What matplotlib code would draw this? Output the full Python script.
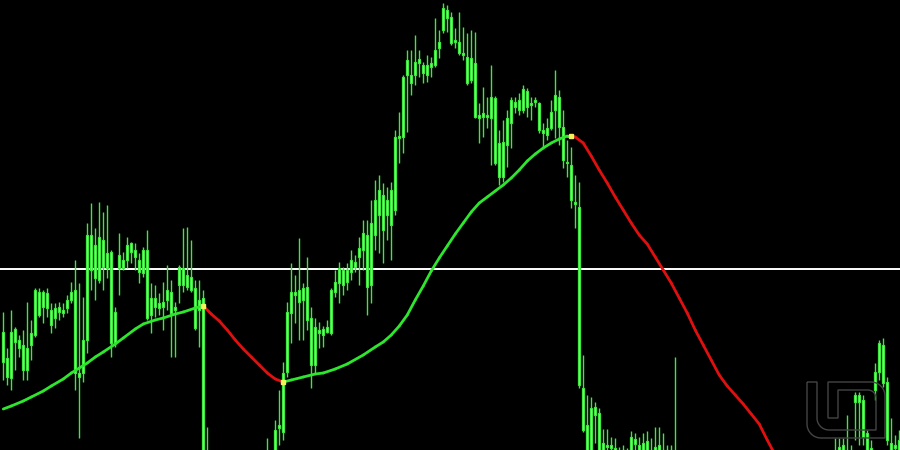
import numpy as np
import matplotlib
matplotlib.use("Agg")
import matplotlib.pyplot as plt
from matplotlib.collections import LineCollection
from matplotlib.path import Path
from matplotlib.patches import PathPatch

# candle data (one row per bar): high, close, open, low
highs = [138, 102, 140, 123, 115, 120, 148, 130, 162, 162, 160, 162, 147, 147, 148, 147, 155, 168, 190, 167,
         153, 227, 247, 222, 248, 238, 245, 200, 143, 217, 198, 213, 208, 207, 197, 203, 220, 167, 165, 157,
         168, 185, 170, 148, 185, 222, 223, 210, 170, 170, 160, 23, -8, -12, -10, -15, -18, -14, -20, -17,
         -12, -22, -19, -15, -10, -12, 12, -3, 30, 60, 88, 148, 187, 175, 212, 167, 193, 143, 132, 128,
         124, 130, 162, 180, 188, 183, 187, 200, 195, 213, 230, 230, 250, 270, 275, 267, 263, 268, 320, 338,
         375, 400, 400, 415, 400, 388, 395, 393, 432, 420, 447, 445, 438, 422, 438, 423, 417, 420, 418, 347,
         363, 353, 385, 354, 320, 330, 340, 353, 353, 357, 365, 362, 353, 353, 348, 327, 332, 350, 380, 360,
         340, 310, 303, 275, 268, 95, 55, 53, 48, 42, 21, 21, 13, 12, 3, 5, 2, 19, 17, 13,
         17, 19, 12, 23, 23, 17, 5, 5, 93, -12, -18, -22, -20, -30, -35, -33, -40, -45, -42, -50,
         -55, -52, -58, -62, -60, -65, -68, -64, -60, -62, -55, -50, -52, -45, -40, -42, -35, -30, -32, -25,
         -20, -22, -15, -10, -12, -6, -4, -2, 12, 12, 12, 35, 5, 58, 58, 55, 20, 10, 87, 110,
         112, 73, 32, 15, 20]
closes = [118, 92, 118, 121, 110, 105, 102, 117, 160, 158, 158, 157, 140, 142, 143, 140, 150, 158, 160, 77,
          110, 215, 215, 205, 213, 210, 197, 198, 138, 195, 190, 205, 207, 200, 190, 200, 200, 152, 152, 147,
          148, 160, 158, 143, 183, 182, 175, 173, 162, 150, 152, -5, -15, -20, -18, -22, -25, -20, -28, -24,
          -18, -30, -26, -20, -16, -18, -8, -8, 20, 25, 77, 138, 158, 158, 160, 162, 163, 132, 123, 120,
          121, 123, 160, 168, 182, 180, 180, 190, 188, 202, 217, 215, 227, 250, 260, 255, 250, 260, 313, 314,
          373, 390, 375, 388, 391, 385, 385, 387, 400, 408, 442, 440, 433, 410, 408, 397, 393, 392, 387, 335,
          337, 335, 353, 352, 307, 308, 332, 350, 348, 350, 361, 359, 347, 350, 347, 320, 322, 338, 355, 353,
          323, 288, 285, 248, 243, 62, 25, 42, 43, 37, 7, 5, 5, 2, -2, 0, -2, 13, 11, 5,
          7, 9, 0, 3, 5, 0, 0, 0, -5, -20, -25, -30, -28, -38, -42, -40, -48, -52, -50, -58,
          -62, -60, -66, -70, -68, -72, -75, -72, -68, -70, -64, -58, -60, -54, -48, -50, -44, -38, -40, -33,
          -28, -30, -22, -18, -20, -14, -12, -10, -2, 3, 5, 0, -2, 55, 55, 50, 17, 2, 78, 107,
          105, 68, 7, 5, 10]
opens = [88, 73, 72, 108, 102, 80, 80, 105, 115, 135, 143, 142, 125, 132, 138, 137, 142, 150, 77, 73,
         77, 110, 180, 172, 170, 183, 182, 107, 107, 182, 182, 190, 198, 193, 178, 177, 132, 135, 143, 142,
         143, 150, 137, 140, 165, 165, 163, 160, 122, 140, -20, -20, -25, -30, -28, -32, -35, -30, -38, -34,
         -28, -40, -36, -30, -26, -28, -18, -15, 0, 22, 18, 78, 137, 155, 148, 150, 130, 85, 85, 117,
         115, 118, 117, 158, 167, 165, 168, 178, 183, 193, 200, 163, 165, 215, 235, 220, 235, 225, 240, 312,
         313, 375, 367, 375, 387, 377, 375, 383, 385, 402, 420, 432, 407, 408, 397, 395, 367, 370, 333, 332,
         333, 333, 332, 287, 273, 273, 305, 327, 343, 340, 340, 343, 345, 348, 320, 317, 315, 322, 340, 323,
         290, 287, 250, 246, 65, 20, -5, -5, 35, -5, -5, 3, 2, -5, -10, -8, -10, -5, 6, -5,
         -5, -5, -6, -5, -5, -6, -8, -8, -15, -32, -38, -42, -45, -50, -55, -52, -60, -66, -62, -70,
         -75, -72, -78, -82, -80, -85, -88, -84, -80, -82, -76, -70, -72, -66, -60, -62, -56, -50, -52, -45,
         -40, -42, -34, -30, -32, -26, -22, -20, -10, -2, -2, -8, -10, 48, 48, 13, 0, -5, 60, 78,
         67, 10, -2, 2, 0]
lows = [70, 65, 60, 80, 93, 70, 70, 90, 113, 133, 127, 133, 117, 122, 130, 133, 137, 147, 60, 12,
        68, 97, 160, 150, 167, 160, 172, 93, 103, 155, 180, 182, 187, 180, 167, 173, 130, 117, 133, 135,
        120, 140, 93, 93, 147, 158, 160, 158, 120, 103, -30, -30, -35, -40, -38, -42, -45, -40, -48, -44,
        -38, -50, -46, -40, -36, -38, -25, -22, -10, 5, 10, 73, 107, 127, 110, 110, 120, 62, 77, 102,
        103, 117, 115, 153, 147, 155, 160, 170, 178, 165, 180, 135, 147, 200, 197, 187, 210, 190, 235, 287,
        297, 318, 355, 365, 373, 367, 368, 373, 383, 392, 417, 418, 405, 402, 395, 390, 365, 367, 332, 307,
        313, 322, 285, 285, 265, 268, 283, 302, 337, 335, 337, 333, 330, 343, 317, 303, 310, 320, 312, 305,
        282, 273, 242, 222, 62, 18, -10, -10, 7, -10, -10, -5, -5, -10, -15, -15, -15, -10, -5, -10,
        -10, -10, -10, -10, -10, -10, -12, -12, -20, -40, -48, -52, -55, -60, -66, -62, -70, -75, -72, -80,
        -85, -82, -90, -92, -88, -95, -98, -94, -90, -92, -86, -80, -82, -76, -70, -72, -66, -60, -62, -55,
        -50, -52, -44, -40, -42, -36, -32, -30, -15, -10, -10, -12, -15, 10, 5, 5, -5, -10, 50, 70,
        63, 5, -5, -5, -5]

# moving average (bar index, value)
ma_idx = [0, 2, 5, 7, 10, 12, 15, 17, 19, 21, 23, 25, 28, 30, 33, 35, 38, 40, 43, 45,
          48, 50, 52, 54, 56, 58, 60, 62, 64, 66, 68, 70, 72, 75, 78, 80, 83, 86, 90, 93,
          95, 97, 99, 101, 103, 105, 107, 109, 111, 113, 115, 117, 119, 121, 123, 125, 127, 129, 131, 133,
          135, 137, 139, 141, 142, 143, 145, 147, 149, 151, 153, 155, 157, 159, 161, 163, 165, 167, 169, 171,
          173, 175, 177, 179, 181, 183, 185, 187, 189, 191, 193, 196, 200, 224]
ma_val = [41, 44, 49, 53, 59, 64, 71, 77, 82, 87, 93, 98, 106, 112, 121, 126, 130, 132, 136, 138,
          142, 144, 136, 129, 120, 110, 101, 93, 85, 77, 71, 68, 70, 73, 76, 77, 81, 86, 95, 103,
          108, 115, 124, 135, 150, 164, 179, 192, 204, 216, 227, 238, 247, 253, 259, 265, 272, 280, 289, 296,
          302, 307, 311, 314, 314, 313, 307, 294, 280, 267, 253, 240, 227, 215, 206, 193, 180, 167, 152, 137,
          120, 105, 90, 75, 64, 55, 46, 36, 26, 10, -5, -30, -55, -150]

level = 181  # horizontal line

green = '#3fe83f'
body_face = '#8dff8d'

fig = plt.figure(figsize=(9, 4.5), dpi=100, facecolor='black')
ax = fig.add_axes([0, 0, 1, 1])
ax.set_facecolor('black')
ax.set_xlim(-0.825, 224.2)
ax.set_ylim(0, 450)
ax.axis('off')

x = np.arange(len(highs))
highs = np.array(highs)
lows = np.array(lows)
opens = np.array(opens)
closes = np.array(closes)

# logo (drawn under the candles, in pixel coordinates)
def arc(cx, cy, r, a0, a1, n=12):
    t = np.radians(np.linspace(a0, a1, n))
    return list(zip(cx + r * np.cos(t), cy + r * np.sin(t)))

pts = [(807, 382), (817, 382), (817, 418)]
pts += arc(829, 418, 12, 180, 90)
pts += [(876, 430), (876, 398)]
pts += arc(868, 398, 8, 0, -90)
pts += [(838, 390), (838, 418), (828, 418), (828, 382), (871, 382)]
pts += arc(871, 396, 14, -90, 0)
pts += [(885, 438), (821, 438)]
pts += arc(821, 424, 14, 90, 180)
pts += [(807, 382)]
pts = [(px / 900, 1 - py / 450) for px, py in pts]
logo = PathPatch(Path(pts), facecolor='none', edgecolor='#444444', lw=1,
                 transform=fig.transFigure, zorder=1)
fig.patches.append(logo)

ax.axhline(level, color='white', lw=1.4, zorder=2)

ax.vlines(x, lows, highs, color=green, lw=1, zorder=3)
bottom = np.minimum(opens, closes)
height = np.maximum(np.abs(closes - opens), 1.5)
ax.bar(x, height, bottom=bottom, width=0.55, color=body_face, edgecolor=green,
       linewidth=0.9, zorder=4)

# moving average, green when rising and red when falling
mx = np.array(ma_idx)
my = np.array(ma_val)
segs = [[(mx[i], my[i]), (mx[i + 1], my[i + 1])] for i in range(len(mx) - 1)]
rising = [my[i + 1] >= my[i] for i in range(len(mx) - 1)]
cols = ['#2ee62e' if r else '#e01010' for r in rising]
ax.add_collection(LineCollection(segs, colors=cols, linewidths=2, capstyle='round', zorder=5))

# small yellow marks where the direction flips
turns = [i + 1 for i in range(len(rising) - 1) if rising[i] != rising[i + 1]]
ax.plot(mx[turns], my[turns], 's', color='#f2f25a', ms=2.5, zorder=6)

fig.savefig('out.png', dpi=100, facecolor='black')
